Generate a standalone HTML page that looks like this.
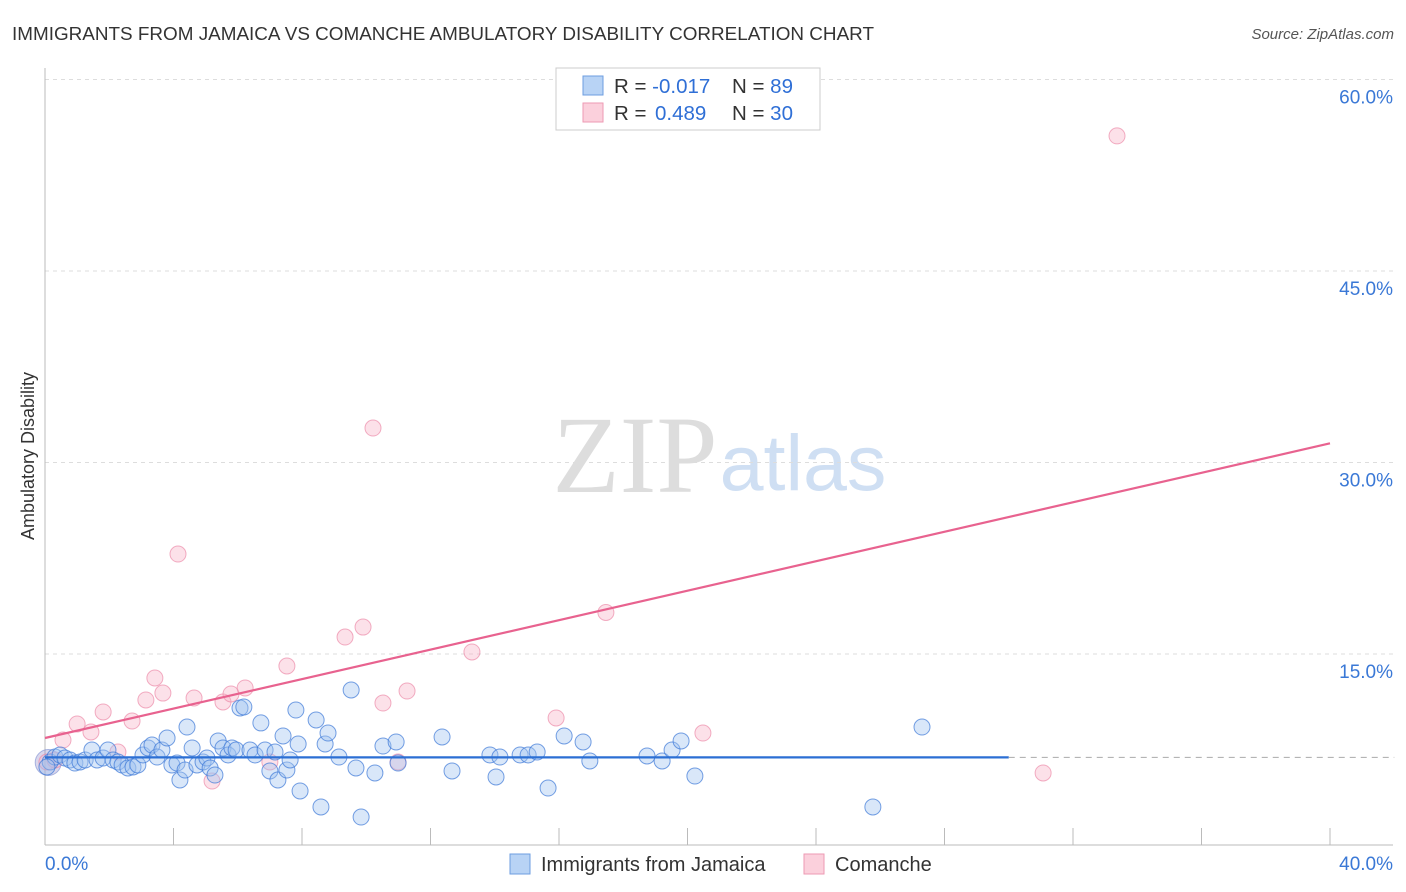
<!DOCTYPE html>
<html><head><meta charset="utf-8"><style>
body{margin:0;background:#fff;font-family:"Liberation Sans",sans-serif;}
svg{display:block}
</style></head><body>
<svg id="chart" width="1406" height="892">
<text x="12" y="40" font-size="18.5" fill="#333" textLength="862" lengthAdjust="spacingAndGlyphs">IMMIGRANTS FROM JAMAICA VS COMANCHE AMBULATORY DISABILITY CORRELATION CHART</text>
<text x="1394" y="39" font-size="15" fill="#555" font-style="italic" text-anchor="end">Source: ZipAtlas.com</text>
<text x="635" y="492" font-size="110" fill="#ddd" font-family="Liberation Serif,serif" text-anchor="middle">ZIP</text>
<text x="803" y="490" font-size="79" fill="#cfdff3" text-anchor="middle">atlas</text>
<text transform="translate(34,456) rotate(-90)" font-size="18" fill="#333" text-anchor="middle">Ambulatory Disability</text>
<g id="grid"></g><g id="marks"></g>
<g>
<rect x="556" y="68" width="264" height="62" fill="#fff" stroke="#ccc"/>
<rect x="583" y="76" width="20" height="19" fill="#b8d3f5" stroke="#6d9ee0"/>
<rect x="583" y="103" width="20" height="19" fill="#fbd0dc" stroke="#ee9ab3"/>
<text x="614" y="93" font-size="20.5" fill="#333">R = <tspan fill="#2f6fd6">-0.017</tspan><tspan x="732">N = </tspan><tspan fill="#2f6fd6">89</tspan></text>
<text x="614" y="120" font-size="20.5" fill="#333">R = <tspan x="655" fill="#2f6fd6">0.489</tspan><tspan x="732">N = </tspan><tspan fill="#2f6fd6">30</tspan></text>
</g>
<g>
<rect x="510" y="854" width="20" height="20" fill="#b8d3f5" stroke="#6d9ee0"/>
<text x="541" y="871" font-size="20" fill="#333">Immigrants from Jamaica</text>
<rect x="804" y="854" width="20" height="20" fill="#fbd0dc" stroke="#ee9ab3"/>
<text x="835" y="871" font-size="20" fill="#333">Comanche</text>
</g>
</svg>
<script>
const blueX=[0.16,0.31,0.47,0.62,0.78,0.93,1.09,1.25,1.46,1.62,1.81,1.96,2.12,2.27,2.40,2.58,2.74,2.89,3.05,3.21,3.33,3.49,3.64,3.80,3.95,4.11,4.20,4.36,4.42,4.58,4.73,4.92,5.04,5.14,5.29,5.39,5.54,5.70,5.82,5.95,6.07,6.19,6.38,6.54,6.72,6.85,7.00,7.16,7.25,7.41,7.53,7.63,7.81,7.88,7.94,8.44,8.59,8.72,8.81,9.15,9.53,9.68,9.84,10.27,10.52,10.93,10.99,12.36,12.67,13.85,14.04,14.16,14.79,15.04,15.32,15.66,16.16,16.75,16.96,18.74,19.21,19.52,19.80,20.23,25.77,27.30,0.06];
const blueY=[6.54,6.93,7.09,6.85,6.70,6.46,6.54,6.70,7.48,6.70,6.85,7.48,6.70,6.54,6.31,6.07,6.15,6.31,7.09,7.64,7.87,6.93,7.48,8.42,6.31,6.46,5.13,5.91,9.28,7.64,6.31,6.54,6.85,6.07,5.52,8.19,7.64,7.09,7.64,7.48,10.77,10.85,7.48,7.09,9.60,7.48,5.84,7.32,5.13,8.58,5.91,6.70,10.61,7.95,4.27,9.83,3.02,7.95,8.81,6.93,12.18,6.07,2.23,5.68,7.79,8.11,6.46,8.50,5.84,7.09,5.37,6.93,7.09,7.09,7.32,4.50,8.58,8.11,6.62,7.01,6.62,7.48,8.19,5.44,3.02,9.28,6.15];
const pinkX=[0.06,0.31,0.56,1.00,1.43,1.81,2.27,2.71,3.14,3.42,3.67,4.14,4.64,5.20,5.54,5.79,6.23,7.00,7.53,9.34,9.90,10.21,10.52,10.99,11.27,13.29,15.91,17.46,20.48,31.07,33.37];
const pinkY=[6.54,6.70,8.26,9.52,8.89,10.46,7.32,9.75,11.40,13.12,11.94,22.83,11.55,5.05,11.24,11.87,12.34,6.54,14.06,16.33,17.11,32.70,11.16,6.54,12.10,15.16,9.99,18.25,8.81,5.68,55.58];
const yTicks=[15,30,45,60];
const yTickLabels=["15.0%","30.0%","45.0%","60.0%"];
const xTicks=[0,4,8,12,16,20,24,28,32,36,40];
const blueTrend=[6.9,6.9];const blueTrendEnd=30;
const pinkTrend=[8.42,31.5];
const X=v=>45+v*32.125, Y=v=>845.5-v*12.767;
const NS="http://www.w3.org/2000/svg";
function mk(tag,attrs,parent){const e=document.createElementNS(NS,tag);for(const k in attrs)e.setAttribute(k,attrs[k]);parent.appendChild(e);return e;}
const grid=document.getElementById('grid'),marks=document.getElementById('marks');
yTicks.forEach((t,i)=>{
 const l=mk('line',{x1:45,x2:1393,y1:Y(t),y2:Y(t),stroke:'#ddd','stroke-dasharray':'4,4'},grid);
 
 
 const tx=mk('text',{x:1393,y:Y(t)+24,'font-size':19,fill:'#3a78d6','text-anchor':'end'},grid);
 tx.textContent=yTickLabels[i];
 
 
});
const ax=mk('line',{x1:45,x2:45,y1:68,y2:845,stroke:'#bbb'},grid);


const bx=mk('line',{x1:45,x2:1393,y1:845,y2:845,stroke:'#bbb'},grid);


xTicks.forEach(t=>{
 const l=mk('line',{x1:X(t),x2:X(t),y1:828,y2:845,stroke:'#bbb'},grid);
 
 
});
const xl0=mk('text',{x:45,y:870,'font-size':19,fill:'#3a78d6'},grid);xl0.textContent="0.0%";


const xl1=mk('text',{x:1393,y:870,'font-size':19,fill:'#3a78d6','text-anchor':'end'},grid);xl1.textContent="40.0%";


const big=mk('circle',{cx:X(0.1),cy:Y(6.5),r:13,fill:'rgba(150,140,200,0.35)',stroke:'rgba(120,140,210,0.6)'},marks);


pinkX.forEach((x,i)=>{
 const c=mk('circle',{cx:X(x),cy:Y(pinkY[i]),r:8,fill:'rgba(248,180,200,0.4)',stroke:'rgba(236,140,170,0.7)','stroke-width':1},marks);
 
 
});
blueX.forEach((x,i)=>{
 const c=mk('circle',{cx:X(x),cy:Y(blueY[i]),r:8,fill:'rgba(160,195,240,0.4)',stroke:'rgba(60,120,215,0.7)','stroke-width':1},marks);
 
 
});
const pl=mk('line',{x1:X(0),y1:Y(pinkTrend[0]),x2:X(40),y2:Y(pinkTrend[1]),stroke:'#e8628f','stroke-width':2.2},marks);


const bl=mk('line',{x1:X(0),y1:Y(blueTrend[0]),x2:X(blueTrendEnd),y2:Y(blueTrend[0]+(blueTrend[1]-blueTrend[0])*blueTrendEnd/40),stroke:'#2b6fd4','stroke-width':2.2},marks);


const bd=mk('line',{x1:X(blueTrendEnd),y1:Y(blueTrend[0]),x2:X(42),y2:Y(blueTrend[1]),stroke:'#aaa','stroke-dasharray':'6,5'},marks);


</script>
</body></html>
